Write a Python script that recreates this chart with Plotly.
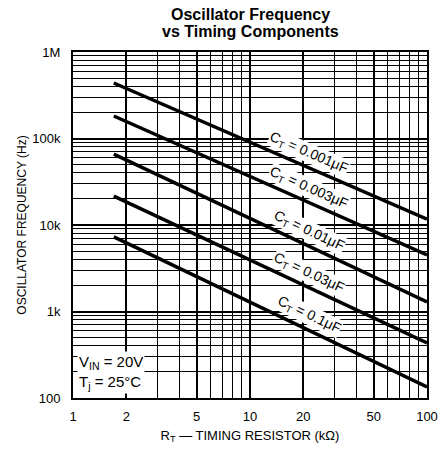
import math
import plotly.graph_objects as go

# straight lines on log-log, given by their two ends
r_ends = [1.7, 100]
cap_labels = ["0.001", "0.003", "0.01", "0.03", "0.1"]
f_start = [438000, 182000, 66000, 21600, 7300]
f_end = [11700, 4500, 1290, 432, 134]

x_ticks = [1, 2, 5, 10, 20, 50, 100]
y_ticks = [100, 1000, 10000, 100000, 1000000]
y_tick_text = ["100", "1k", "10k", "100k", "1M"]

W, H = 444, 451
ml, mr, mt, mb = 73, 17, 52, 53
xdec = (W - ml - mr) / 2.0
ydec = (H - mt - mb) / 4.0

font = "Liberation Sans, Arial, sans-serif"

fig = go.Figure()
for c, f0, f1 in zip(cap_labels, f_start, f_end):
    fig.add_trace(go.Scatter(x=r_ends, y=[f0, f1], mode="lines",
                             line=dict(color="black", width=3.5),
                             showlegend=False, hoverinfo="skip"))

# labels sit just above each line
label_r = 21.5
for c, f0, f1 in zip(cap_labels, f_start, f_end):
    lr0, lr1 = math.log10(r_ends[0]), math.log10(r_ends[1])
    slope = (math.log10(f1) - math.log10(f0)) / (lr1 - lr0)
    ly = math.log10(f0) + (math.log10(label_r) - lr0) * slope
    ang = math.degrees(math.atan(-slope * ydec / xdec))
    fig.add_annotation(x=math.log10(label_r), y=ly,
                       text="C<sub>T</sub> = " + c + "μF",
                       showarrow=False, textangle=ang, yshift=15,
                       bgcolor="white", borderpad=0,
                       font=dict(family=font, size=14, color="black"))

fig.add_annotation(x=0, y=2, xanchor="left", yanchor="bottom",
                   xshift=4, yshift=4, align="left",
                   text="V<sub>IN</sub> = 20V<br>T<sub>j</sub> = 25°C",
                   showarrow=False, bgcolor="white", borderpad=1,
                   font=dict(family=font, size=15, color="black"))

# title as two annotations, tighter line spacing like the original
for txt, dy in [("Oscillator Frequency", 38), ("vs Timing Components", 21)]:
    fig.add_annotation(xref="paper", yref="paper", x=0.5, y=1, yshift=dy,
                       xanchor="center", yanchor="middle", showarrow=False,
                       text="<b>" + txt + "</b>",
                       font=dict(family=font, size=16, color="black"))

minor_x = [k * 10 ** d for d in range(0, 2) for k in range(2, 10)]
minor_y = [k * 10 ** d for d in range(2, 6) for k in range(2, 10)]

fig.update_layout(
    width=W, height=H,
    margin=dict(l=ml, r=mr, t=mt, b=mb),
    paper_bgcolor="white", plot_bgcolor="white",
    font=dict(family=font, size=13, color="black"),
)
fig.update_xaxes(type="log", range=[0, 2], tickvals=x_ticks,
                 ticktext=[str(v) for v in x_ticks], automargin=False,
                 showgrid=True, gridcolor="black", gridwidth=1.5,
                 minor=dict(tickvals=minor_x, showgrid=True,
                            gridcolor="black", gridwidth=1.3),
                 showline=True, mirror=True, linecolor="black", linewidth=2,
                 ticks="", zeroline=False, ticklabelstandoff=5,
                 tickfont=dict(size=13),
                 title=dict(text="R<sub>T</sub> — TIMING RESISTOR (kΩ)",
                            font=dict(size=13), standoff=8))
fig.update_yaxes(type="log", range=[2, 6], tickvals=y_ticks,
                 ticktext=y_tick_text, automargin=False,
                 showgrid=True, gridcolor="black", gridwidth=1.5,
                 minor=dict(tickvals=minor_y, showgrid=True,
                            gridcolor="black", gridwidth=1.3),
                 showline=True, mirror=True, linecolor="black", linewidth=2,
                 ticks="", zeroline=False, ticklabelstandoff=8,
                 tickfont=dict(size=13),
                 title=dict(text="OSCILLATOR FREQUENCY (Hz)",
                            font=dict(size=12), standoff=3))

# drop the default page margin so the figure fills the window exactly
fig.write_html("out.html", config={"displayModeBar": False},
               post_script="document.body.style.margin='0px';")
